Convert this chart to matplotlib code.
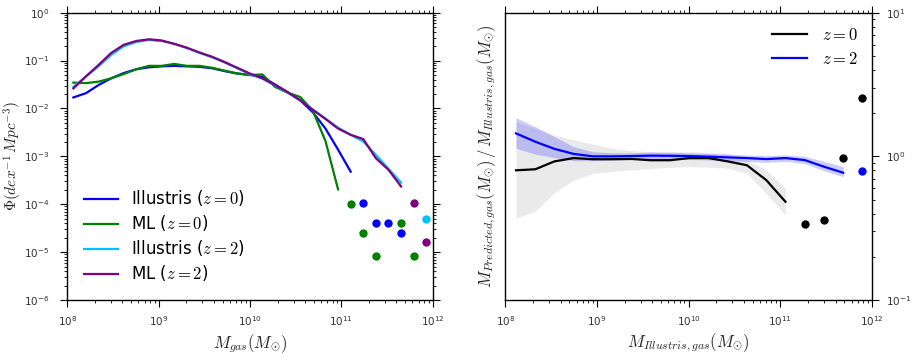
import matplotlib
matplotlib.use("Agg")
import matplotlib.pyplot as plt
import numpy as np

plt.rcParams['mathtext.fontset'] = 'cm'

# --- left panel: gas mass function (log10 values) ---
logm_bins = [8.066, 8.204, 8.342, 8.480, 8.618, 8.756, 8.894, 9.032, 9.170,
             9.308, 9.446, 9.584, 9.722, 9.860, 9.998, 10.136, 10.274, 10.412,
             10.550, 10.688, 10.826, 10.964, 11.102, 11.240, 11.378, 11.516,
             11.654, 11.792, 11.930]

phi_ill_z0 = [-1.77, -1.68, -1.51, -1.37, -1.26, -1.18, -1.14, -1.12, -1.11,
              -1.12, -1.13, -1.16, -1.22, -1.27, -1.30, -1.34, -1.50, -1.66,
              -1.83, -2.08, -2.42, -2.86, -3.32]
phi_ml_z0 = [-1.46, -1.47, -1.44, -1.37, -1.28, -1.18, -1.11, -1.11, -1.07,
             -1.11, -1.11, -1.15, -1.21, -1.27, -1.30, -1.29, -1.55, -1.67,
             -1.76, -2.05, -2.68, -3.69]
phi_ill_z2 = [-1.55, -1.33, -1.12, -0.88, -0.70, -0.61, -0.57, -0.59, -0.65,
              -0.74, -0.84, -0.93, -1.04, -1.16, -1.28, -1.38, -1.52, -1.67,
              -1.83, -2.02, -2.21, -2.40, -2.55, -2.69, -2.97, -3.26, -3.55]
phi_ml_z2 = [-1.58, -1.33, -1.09, -0.84, -0.67, -0.59, -0.555, -0.58, -0.65,
             -0.73, -0.83, -0.92, -1.03, -1.15, -1.27, -1.37, -1.51, -1.66,
             -1.83, -2.03, -2.22, -2.42, -2.55, -2.64, -3.04, -3.28, -3.63]

# single-object bins shown as dots: (bin index, log10 phi)
dots_ill_z0 = [(23, -3.967), (24, -4.384), (25, -4.384), (26, -4.605)]
dots_ml_z0 = [(22, -4.0), (23, -4.605), (24, -5.086), (26, -4.384), (27, -5.086)]
dots_ill_z2 = [(28, -4.307)]
dots_ml_z2 = [(27, -3.967), (28, -4.781)]

# --- right panel: predicted / true ratio (log10 values) ---
logm_ratio = [8.116, 8.326, 8.536, 8.746, 8.956, 9.166, 9.376, 9.586, 9.796,
              10.006, 10.216, 10.426, 10.636, 10.846, 11.056, 11.266, 11.476,
              11.686, 11.896]

ratio_z0 = [-0.097, -0.090, -0.035, -0.012, -0.020, -0.020, -0.018, -0.027,
            -0.027, -0.012, -0.012, -0.035, -0.062, -0.165, -0.316]
ratio_z0_hi = [0.241, 0.195, 0.148, 0.115, 0.085, 0.055, 0.040, 0.032, 0.032,
               0.032, 0.028, 0.020, -0.026, -0.095, -0.223]
ratio_z0_lo = [-0.432, -0.381, -0.253, -0.165, -0.118, -0.105, -0.095, -0.085,
               -0.075, -0.072, -0.075, -0.083, -0.118, -0.258, -0.408]

ratio_z2 = [0.160, 0.102, 0.052, 0.017, 0.0, 0.0, 0.002, 0.005, 0.004, 0.002,
            -0.002, -0.007, -0.012, -0.019, -0.012, -0.026, -0.072, -0.114]
ratio_z2_hi = [0.269, 0.206, 0.137, 0.067, 0.032, 0.025, 0.025, 0.030, 0.028,
               0.025, 0.020, 0.015, 0.010, 0.005, 0.010, 0.0, -0.035, -0.072]
ratio_z2_lo = [0.056, 0.016, -0.009, -0.030, -0.030, -0.025, -0.022, -0.020,
               -0.020, -0.022, -0.025, -0.030, -0.035, -0.042, -0.035, -0.050,
               -0.100, -0.141]

dots_ratio_z0 = [(15, -0.471), (16, -0.443), (17, -0.0136), (18, 0.408)]
dots_ratio_z2 = [(18, -0.102)]

CYAN = '#00bfff'
TXT = '#222222'


def p10(v):
    return 10 ** np.asarray(v, dtype=float)


def style_ticks(ax, left=True, ypad=5):
    ax.tick_params(which='both', direction='out', top=True, bottom=True,
                   right=True, left=left, labelsize=7.5, labelcolor='#333333')
    ax.tick_params(axis='x', which='both', pad=5)
    ax.tick_params(axis='y', which='both', pad=ypad)
    ax.tick_params(which='major', length=5)
    ax.tick_params(which='minor', length=2.5)
    for s in ax.spines.values():
        s.set_linewidth(1.0)


fig = plt.figure(figsize=(9.15, 3.56), dpi=100)
ax1 = fig.add_axes([0.0736, 0.1573, 0.3993, 0.807])
ax2 = fig.add_axes([0.5523, 0.1573, 0.4007, 0.807])

# left panel
x = p10(logm_bins)
for vals, col, lab in [(phi_ill_z0, 'blue', r'Illustris ($z=0$)'),
                       (phi_ml_z0, 'green', r'ML ($z=0$)'),
                       (phi_ill_z2, CYAN, r'Illustris ($z=2$)'),
                       (phi_ml_z2, 'purple', r'ML ($z=2$)')]:
    ax1.plot(x[:len(vals)], p10(vals), color=col, lw=1.6, label=lab)

for pts, col in [(dots_ill_z0, 'blue'), (dots_ml_z0, 'green'),
                 (dots_ill_z2, CYAN), (dots_ml_z2, 'purple')]:
    idx, v = zip(*pts)
    ax1.plot(x[list(idx)], p10(v), 'o', color=col, ms=6, mec='none')

ax1.set_xscale('log')
ax1.set_yscale('log')
ax1.set_xlim(1e8, 1e12)
ax1.set_ylim(1e-6, 1)
ax1.set_xlabel(r'$M_{gas}(M_{\odot})$', fontsize=12, color=TXT, labelpad=3)
ax1.set_ylabel(r'$\Phi(dex^{-1}\,Mpc^{-3})$', fontsize=11, color=TXT)
ax1.yaxis.set_label_coords(-0.12, 0.5)
style_ticks(ax1, ypad=8)
ax1.legend(loc='lower left', frameon=False, fontsize=12, handlelength=2.05,
           handletextpad=0.75, borderaxespad=0.6, labelspacing=0.3)

# right panel
xr = p10(logm_ratio)
n0 = len(ratio_z0)
n2 = len(ratio_z2)
ax2.fill_between(xr[:n0], p10(ratio_z0_lo), p10(ratio_z0_hi),
                 color='#d6d6d6', alpha=0.5, lw=0)
ax2.fill_between(xr[:n2], p10(ratio_z2_lo), p10(ratio_z2_hi),
                 color='blue', alpha=0.2, lw=0)
ax2.plot(xr[:n0], p10(ratio_z0), color='black', lw=1.6, label=r'$z=0$')
ax2.plot(xr[:n2], p10(ratio_z2), color='blue', lw=1.6, label=r'$z=2$')
for pts, col in [(dots_ratio_z0, 'black'), (dots_ratio_z2, 'blue')]:
    idx, v = zip(*pts)
    ax2.plot(xr[list(idx)], p10(v), 'o', color=col, ms=6, mec='none')

ax2.set_xscale('log')
ax2.set_yscale('log')
ax2.set_xlim(1e8, 1e12)
ax2.set_ylim(0.1, 10)
ax2.yaxis.tick_right()
ax2.yaxis.set_label_position('left')
ax2.set_xlabel(r'$M_{Illustris,gas}(M_{\odot})$', fontsize=12, color=TXT, labelpad=3)
ax2.set_ylabel(r'$M_{Predicted,gas}(M_{\odot})\,/\,M_{Illustris,gas}(M_{\odot})$',
               fontsize=12, color=TXT)
ax2.yaxis.set_label_coords(-0.02, 0.5)
style_ticks(ax2, left=False, ypad=5)
ax2.legend(loc='upper right', frameon=False, fontsize=12, handlelength=2.1,
           handletextpad=0.9, labelspacing=0.35, borderaxespad=0.4)

fig.savefig('out.png', dpi=100)
